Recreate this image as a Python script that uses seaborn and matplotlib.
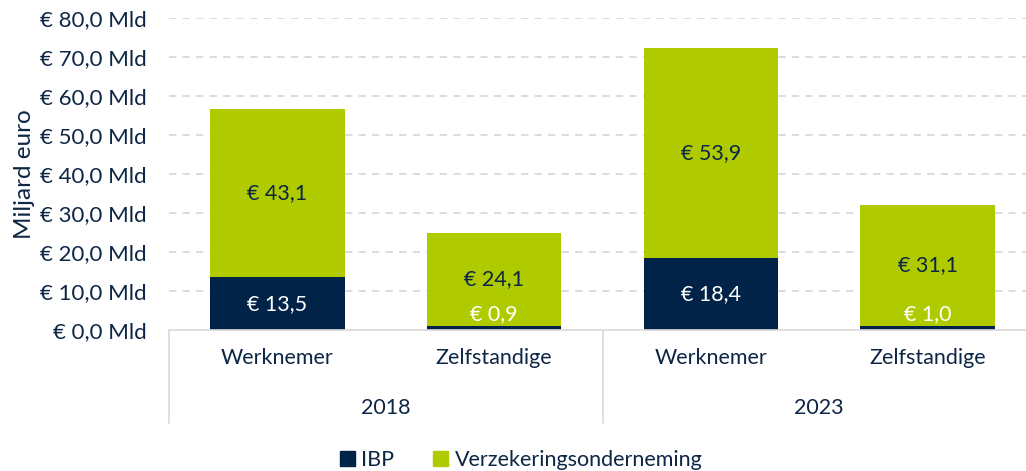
import matplotlib
matplotlib.use("Agg")
import matplotlib.pyplot as plt
import seaborn as sns
import pandas as pd
from matplotlib.patches import Patch

years = ["2018", "2018", "2023", "2023"]
groups = ["Werknemer", "Zelfstandige", "Werknemer", "Zelfstandige"]
ibp = [13.5, 0.9, 18.4, 1.0]
verzekering = [43.1, 24.1, 53.9, 31.1]
yticks = [0, 10, 20, 30, 40, 50, 60, 70, 80]

NAVY = "#002347"
GREEN = "#AFCB00"
TXT = "#0D2645"
FONT = ["Lato", "DejaVu Sans"]
FS = 15.5

sns.set_theme(style="white")
plt.rcParams["font.family"] = FONT

df = pd.DataFrame({
    "slot": [f"{y} {g}" for y, g in zip(years, groups)],
    "year": years,
    "group": groups,
    "ibp": ibp,
    "verz": verzekering,
})
df["total"] = df["ibp"] + df["verz"]

fig = plt.figure(figsize=(10.26, 4.71), dpi=100)
ax = fig.add_axes([169 / 1026, 141 / 471, 867 / 1026, 312 / 471])

sns.barplot(data=df, x="slot", y="total", color=GREEN, width=0.62, ax=ax,
            saturation=1, errorbar=None, linewidth=0)
sns.barplot(data=df, x="slot", y="ibp", color=NAVY, width=0.62, ax=ax,
            saturation=1, errorbar=None, linewidth=0)

ax.set_xlim(-0.5, 3.5)
ax.set_ylim(0, 80)
ax.set_yticks(yticks)
ax.set_yticklabels([f"€ {v:.1f} Mld".replace(".", ",") for v in yticks],
                   fontsize=16, color=TXT)
ax.tick_params(axis="y", length=0, pad=16)
for v in yticks[1:]:
    ax.axhline(v, color="#D9D9D9", lw=1.3, ls=(0, (4, 3.5)), zorder=0)
for s in ["top", "right", "left"]:
    ax.spines[s].set_visible(False)
ax.spines["bottom"].set_color("#D9D9D9")
ax.spines["bottom"].set_linewidth(1.2)
ax.set_xlabel("")
ax.set_ylabel("Miljard euro", fontsize=17.5, color=TXT)
ax.yaxis.set_label_coords(-134 / 867, 0.5)
ax.set_xticks(range(4))
ax.set_xticklabels(groups, fontsize=FS, color=TXT)
ax.tick_params(axis="x", length=0, pad=13)

# group labels and separator lines
trans = ax.get_xaxis_transform()
for i, yr in enumerate(["2018", "2023"]):
    ax.text(2 * i + 0.5, -78 / 312, yr, transform=trans, ha="center",
            va="center", fontsize=FS, color=TXT)
for xb in [-0.5, 1.5, 3.5]:
    ax.plot([xb, xb], [0, -93 / 312], transform=trans, color="#D9D9D9",
            lw=1.2, clip_on=False)

# data labels
for i, row in df.iterrows():
    vc = row["ibp"] + row["verz"] / 2
    ax.text(i, vc, f"€ {row['verz']:.1f}".replace(".", ","), ha="center",
            va="center", fontsize=FS, color=TXT)
    if row["ibp"] > 3:
        ax.text(i, row["ibp"] / 2, f"€ {row['ibp']:.1f}".replace(".", ","),
                ha="center", va="center", fontsize=FS, color="white")
    else:
        ax.annotate(f"€ {row['ibp']:.1f}".replace(".", ","), (i, row["ibp"] / 2),
                    xytext=(0, 10), textcoords="offset points", ha="center",
                    va="center", fontsize=FS, color="white")

handles = [Patch(color=NAVY, label="IBP"),
           Patch(color=GREEN, label="Verzekeringsonderneming")]
fig.legend(handles=handles, loc="center", bbox_to_anchor=(0.508, 11 / 471),
           ncol=2, frameon=False, fontsize=FS, handlelength=0.7,
           handleheight=0.7, handletextpad=0.3, columnspacing=1.8,
           labelcolor=TXT)

fig.savefig("out.png", dpi=100)
